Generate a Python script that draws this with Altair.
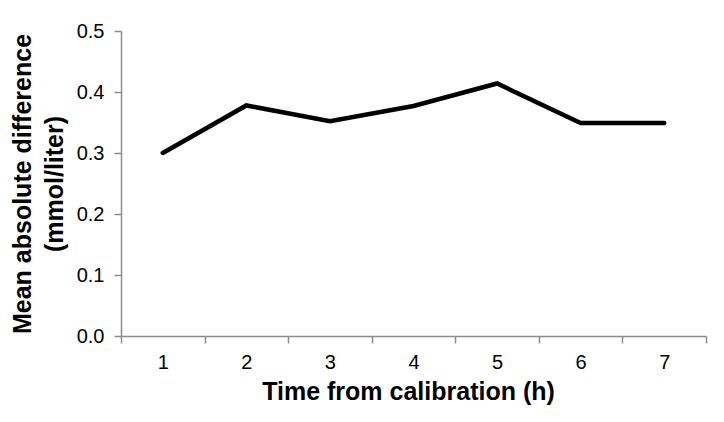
import altair as alt
import pandas as pd

hours = ["1", "2", "3", "4", "5", "6", "7"]
mad = [0.300, 0.378, 0.352, 0.377, 0.414, 0.349, 0.349]

df = pd.DataFrame({"hour": hours, "mad": mad})

FONT = "Liberation Sans"

chart = alt.Chart(df).mark_line(color="black", strokeWidth=4.5, strokeCap="round", strokeJoin="miter").encode(
    x=alt.X("hour:O", sort=hours,
            scale=alt.Scale(paddingInner=0, paddingOuter=0),
            axis=alt.Axis(title="Time from calibration (h)", labelAngle=0, tickBand="extent",
                          labelFontSize=20, labelPadding=9, titleFontSize=25, titleFontWeight="bold",
                          titlePadding=7, titleX=287)),
    y=alt.Y("mad:Q", scale=alt.Scale(domain=[0, 0.5]),
            axis=alt.Axis(title=["Mean absolute difference", "(mmol/liter)"], values=[0, 0.1, 0.2, 0.3, 0.4, 0.5],
                          format=".1f", labelFontSize=20, labelPadding=10, titleFontSize=25,
                          titleFontWeight="bold", titlePadding=9, grid=False, titleLineHeight=32)),
).properties(
    width=585, height=305,
    autosize=alt.AutoSizeParams(type="none"),
    padding={"left": 113, "top": 23, "right": 10, "bottom": 70},
).configure_axis(
    labelFont=FONT, titleFont=FONT, labelColor="black", titleColor="black",
    domainColor="#8c8c8c", tickColor="#8c8c8c", domainWidth=1.5, tickWidth=1.5, tickSize=7,
).configure_view(stroke=None)

chart.save("out.html", embed_options={"renderer": "svg", "actions": False})
